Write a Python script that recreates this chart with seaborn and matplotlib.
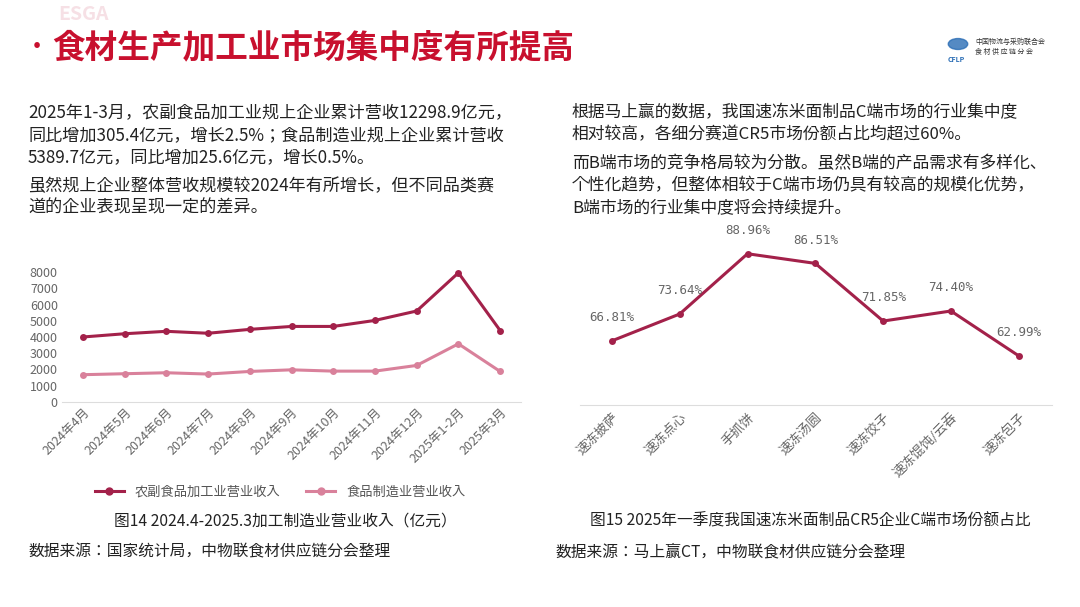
import matplotlib
matplotlib.use("Agg")
import matplotlib.pyplot as plt
from matplotlib import font_manager
import seaborn as sns
import pandas as pd

months = ["2024年4月","2024年5月","2024年6月","2024年7月","2024年8月","2024年9月",
          "2024年10月","2024年11月","2024年12月","2025年1-2月","2025年3月"]
agri = [4000, 4200, 4350, 4230, 4470, 4650, 4650, 5020, 5600, 7950, 4400]
food = [1680, 1740, 1800, 1720, 1880, 1980, 1900, 1900, 2250, 3580, 1880]
yticks_left = [0,1000,2000,3000,4000,5000,6000,7000,8000]

cats = ["速冻披萨","速冻点心","手抓饼","速冻汤圆","速冻饺子","速冻馄饨/云吞","速冻包子"]
share = [66.81, 73.64, 88.96, 86.51, 71.85, 74.40, 62.99]

names = {f.name for f in font_manager.fontManager.ttflist}
cjk = [n for n in ["Noto Sans CJK SC", "Noto Sans CJK JP", "Noto Sans CJK TC", "Noto Sans CJK KR"] if n in names]
plt.rcParams["font.family"] = cjk + ["DejaVu Sans"]
C1 = "#A3214A"; C2 = "#D9819B"; TXT = "#222222"

fig = plt.figure(figsize=(10.8, 6.07), dpi=100)
W, H = 1080, 607
def fx(x): return x / W
def fy(y): return 1 - y / H

# header
fig.text(fx(58), fy(15), "ESGA", fontsize=14, color="#f6e0e5", fontweight="bold", va="center", style="italic")
fig.text(fx(28), fy(48), "·", fontsize=22, color="#C8102E", va="center", fontweight="bold")
fig.text(fx(52), fy(48), "食材生产加工业市场集中度有所提高", fontsize=23.5, color="#C8102E",
         va="center", fontweight="bold", style="italic")
fig.text(fx(975), fy(42), "中国物流与采购联合会", fontsize=5, color="#333", va="center")
fig.text(fx(975), fy(52), "食 材 供 应 链 分 会", fontsize=5, color="#333", va="center")
fig.text(fx(948), fy(60), "CFLP", fontsize=5, color="#2a6db5", va="center", fontweight="bold")
fig.patches.append(matplotlib.patches.Circle((fx(958), fy(44)), 0.009, transform=fig.transFigure,
                                             color="#2a6db5", alpha=0.8))

left_lines = [(113, "2025年1-3月，农副食品加工业规上企业累计营收12298.9亿元，"),
              (135, "同比增加305.4亿元，增长2.5%；食品制造业规上企业累计营收"),
              (157, "5389.7亿元，同比增加25.6亿元，增长0.5%。"),
              (186, "虽然规上企业整体营收规模较2024年有所增长，但不同品类赛"),
              (208, "道的企业表现呈现一定的差异。")]
right_lines = [(113, "根据马上赢的数据，我国速冻米面制品C端市场的行业集中度"),
               (135, "相对较高，各细分赛道CR5市场份额占比均超过60%。"),
               (164, "而B端市场的竞争格局较为分散。虽然B端的产品需求有多样化、"),
               (186, "个性化趋势，但整体相较于C端市场仍具有较高的规模化优势，"),
               (208, "B端市场的行业集中度将会持续提升。")]
for y, t in left_lines:
    fig.text(fx(28), fy(y), t, fontsize=12.3, color=TXT, va="center")
for y, t in right_lines:
    fig.text(fx(572), fy(y), t, fontsize=12.1, color=TXT, va="center")

# left chart
axL = fig.add_axes([fx(62), fy(402), fx(521) - fx(62), fy(272) - fy(402)])
df = pd.DataFrame({"m": list(range(len(months))) * 2,
                   "v": agri + food,
                   "s": ["农副食品加工业营业收入"] * len(months) + ["食品制造业营业收入"] * len(months)})
sns.lineplot(data=df, x="m", y="v", hue="s", palette=[C1, C2], marker="o", markersize=5,
             markeredgewidth=0, linewidth=2.2, ax=axL, legend=False, clip_on=False)
axL.set_xlim(-0.5, 10.5); axL.set_ylim(0, 8000)
axL.set_yticks(yticks_left)
axL.set_xticks(range(len(months)))
axL.set_xticklabels(months, rotation=45, ha="right", rotation_mode="anchor")
axL.tick_params(length=0, labelsize=9, labelcolor="#666", pad=3)
for s in ["top", "right", "left"]:
    axL.spines[s].set_visible(False)
axL.spines["bottom"].set_color("#dddddd")
axL.set_xlabel(""); axL.set_ylabel("")
from matplotlib.lines import Line2D
h = [Line2D([], [], color=C1, marker="o", markersize=5, lw=2.2),
     Line2D([], [], color=C2, marker="o", markersize=5, lw=2.2)]
fig.legend(h, ["农副食品加工业营业收入", "食品制造业营业收入"], loc="center",
           bbox_to_anchor=(fx(280), fy(492)), ncol=2, frameon=False, fontsize=9.5,
           labelcolor="#555", handlelength=2.2, columnspacing=2.0)

# right chart
axR = fig.add_axes([fx(580), fy(405), fx(1052) - fx(580), fy(230) - fy(405)])
xr = list(range(len(cats)))
sns.lineplot(x=xr, y=share, color=C1, marker="o", markersize=5, markeredgewidth=0,
             linewidth=2.2, ax=axR, clip_on=False)
axR.set_xlim(-0.47, 6.49); axR.set_ylim(50.5, 95)
axR.set_yticks([])
axR.set_xticks(xr)
axR.set_xticklabels(cats, rotation=45, ha="right", rotation_mode="anchor")
axR.tick_params(length=0, labelsize=9.5, labelcolor="#666", pad=4)
for s in ["top", "right", "left"]:
    axR.spines[s].set_visible(False)
axR.spines["bottom"].set_color("#dddddd")
for x, v in zip(xr, share):
    axR.annotate(f"{v:.2f}%", (x, v), xytext=(0, 12), textcoords="offset points",
                 ha="center", va="bottom", fontsize=9, color="#666", family="DejaVu Sans Mono")

fig.text(fx(285), fy(521), "图14 2024.4-2025.3加工制造业营业收入（亿元）", fontsize=11.3, color=TXT,
         ha="center", va="center")
fig.text(fx(810), fy(521), "图15 2025年一季度我国速冻米面制品CR5企业C端市场份额占比", fontsize=11.3,
         color=TXT, ha="center", va="center")
fig.text(fx(28), fy(552), "数据来源：国家统计局，中物联食材供应链分会整理", fontsize=11.3, color=TXT, va="center")
fig.text(fx(555), fy(552), "数据来源：马上赢CT，中物联食材供应链分会整理", fontsize=11.3, color=TXT, va="center")

fig.savefig("out.png", dpi=100)
